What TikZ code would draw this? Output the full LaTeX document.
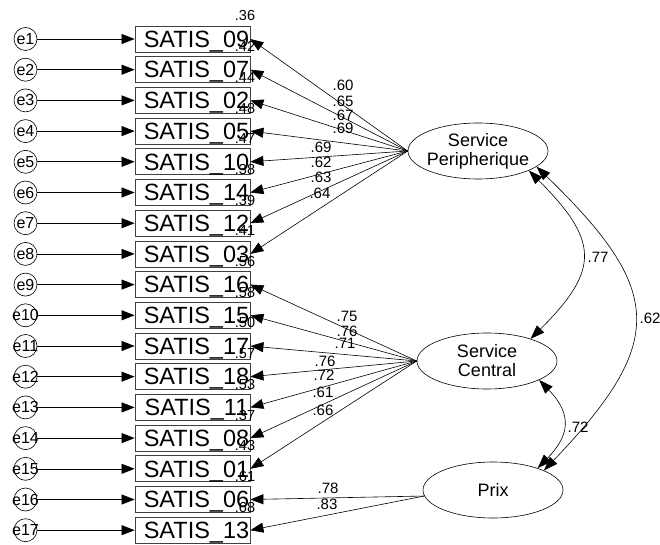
\documentclass[tikz,border=0pt]{standalone}
\usepackage{fontspec}
\setmainfont{Liberation Sans}
\usetikzlibrary{arrows.meta,shapes.geometric}
\tikzset{
  obs/.style={draw=black!75, line width=0.8pt, minimum width=115pt, minimum height=26pt, inner sep=0pt},
  obstext/.style={font=\fontsize{23.5}{24}\selectfont, text height=16.5pt, text depth=0pt, inner sep=0pt, xshift=4pt},
  err/.style={draw, circle, line width=0.6pt, minimum size=23pt, inner sep=0pt},
  errtext/.style={font=\fontsize{16}{16}\selectfont, inner sep=0pt},
  lat/.style={draw, ellipse, line width=0.6pt, minimum width=140pt, minimum height=56pt, inner sep=0pt},
  lattext/.style={font=\fontsize{18}{19}\selectfont, align=center, inner sep=0pt},
  arr/.style={line width=0.6pt, -{Triangle[length=13pt,width=10pt]}},
  cor/.style={line width=0.6pt, {Triangle[length=14pt,width=10pt]}-{Triangle[length=14pt,width=10pt]}},
  coef/.style={font=\fontsize{15}{15}\selectfont, inner sep=0pt},
  rsq/.style={font=\fontsize{14.5}{15}\selectfont, inner sep=0pt},
}
\begin{document}
\begin{tikzpicture}[x=1pt,y=-1pt]
\fill[white] (0,0) rectangle (660,545);
\useasboundingbox (0,0) rectangle (660,545);
% latent variables
\node[lat, label={[lattext]center:{Service\\Peripherique}}] (sp) at (478,151) {};
\node[lat, label={[lattext]center:{Service\\Central}}] (sc) at (487,361) {};
\node[lat, label={[lattext]center:{Prix}}] (prix) at (493,490) {};
% observed variables and errors
\foreach \n/\r [count=\k] in {09/.36,07/.42,02/.44,05/.48,10/.47,14/.38,12/.39,03/.41,16/.56,15/.58,17/.50,18/.57,11/.53,08/.37,01/.43,06/.61,13/.68} {
  \pgfmathsetmacro\yy{39+30.7*(\k-1)}
  \node[obs, label={[obstext]center:SATIS\_\n}] (b\n) at (192.5,\yy) {};
  \node[err, label={[errtext]center:e\k}] (e\k) at (25.5,\yy) {};
  \draw[arr] (e\k) -- (b\n);
}
% squared multiple correlations (drawn over the boxes)
\foreach \n/\r [count=\k] in {09/.36,07/.42,02/.44,05/.48,10/.47,14/.38,12/.39,03/.41,16/.56,15/.58,17/.50,18/.57,11/.53,08/.37,01/.43,06/.61,13/.68} {
  \pgfmathsetmacro\yy{39+30.7*(\k-1)-23}
  \node[rsq] (r\k) at (245,\yy) {\r};
}
% loadings
\foreach \n/\c/\x/\y in {09/.60/343/85,07/.65/343/101,02/.67/343/115,05/.69/343/128,10/.69/321/147,14/.62/321/162,12/.63/321/177,03/.64/320/193} {
  \draw[arr] (sp.west) -- (b\n.east);
  \node[coef] (l\n) at (\x,\y) {\c};
}
\foreach \n/\c/\x/\y in {16/.75/347/316,15/.76/347/331,17/.71/345/343,18/.76/325/361,11/.72/324/375,08/.61/323/392,01/.66/323/410} {
  \draw[arr] (sc.west) -- (b\n.east);
  \node[coef] (l\n) at (\x,\y) {\c};
}
\foreach \n/\c/\x/\y in {06/.78/328/488,13/.83/327/504} {
  \draw[arr] (prix.185) -- (b\n.east);
  \node[coef] (l\n) at (\x,\y) {\c};
}
% correlations
\draw[cor] (sp.-21) .. controls (598,240) and (601,269) .. (sc.27);
\draw[cor] (sp.-15) .. controls (664,290) and (667,342) .. (prix.21);
\draw[cor] (sc.-20) .. controls (573,415) and (569,436) .. (prix.26);
\node[coef] (c1) at (598,257) {.77};
\node[coef] (c2) at (650,318) {.62};
\node[coef] (c3) at (578,427) {.72};
\end{tikzpicture}
\end{document}
